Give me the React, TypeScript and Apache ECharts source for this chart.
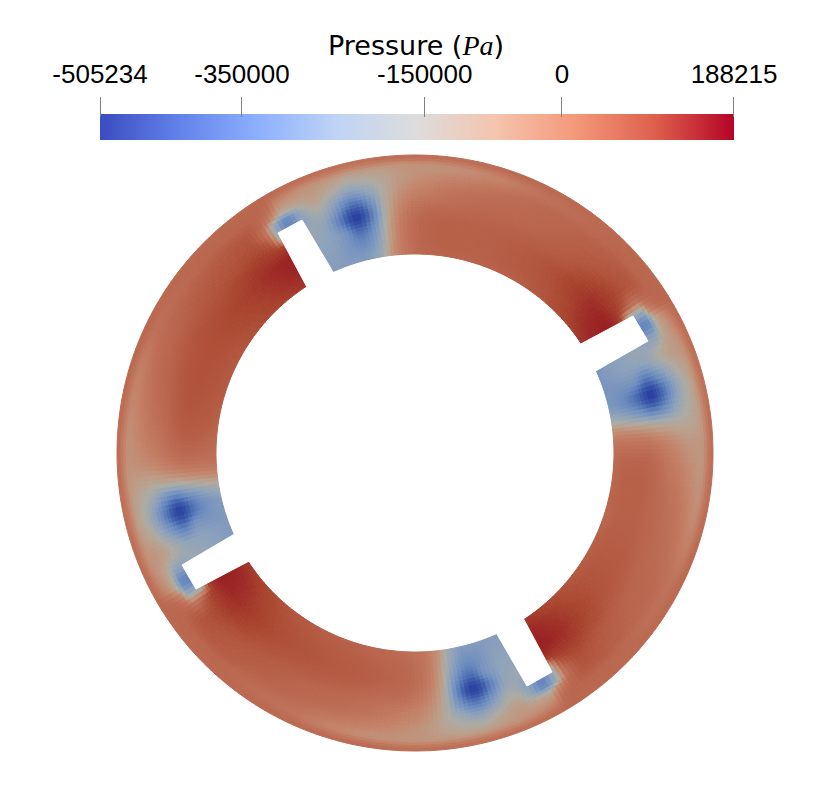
import React, { useEffect, useRef } from "react";
import * as echarts from "echarts";

const CX = 415, CY = 453;
const slotAngles = [61.2, 151.2, 241.2, 331.2];
const knotOffsets = [0, 3, 7, 11, 15, 19, 23, 27, 32, 38, 46, 56, 66, 74, 80, 84, 87];
const radii = [199, 214, 229, 243, 256, 266, 276, 287, 298];

// Pressure in kPa; one list per radius, four 17-column sectors (clockwise).
const pR199 = [
  -100,-260,-265,-270,-265,-200,-60,10,40,50,50,60,75,95,115,135,140,
  -100,-240,-240,-250,-255,-195,-60,5,30,45,55,65,80,100,120,135,140,
  -100,-250,-250,-255,-250,-185,-50,15,40,60,70,75,90,110,125,140,145,
  -100,-245,-245,-250,-250,-200,-65,10,45,55,55,60,75,100,120,140,150];
const pR214 = [
  -100,-235,-240,-270,-295,-225,-70,15,55,60,60,70,85,110,145,165,175,
  -100,-225,-230,-265,-290,-220,-70,10,45,55,65,75,90,115,150,170,175,
  -100,-230,-235,-265,-280,-210,-60,20,55,70,80,85,100,120,150,165,170,
  -100,-230,-235,-265,-295,-230,-75,15,55,60,60,70,85,110,150,170,175];
const pR229 = [
  -100,-215,-225,-270,-380,-270,-85,15,55,60,60,70,85,120,160,180,188,
  -100,-210,-220,-265,-370,-265,-80,10,50,60,70,80,95,125,160,178,185,
  -100,-210,-220,-265,-365,-255,-70,25,60,75,85,90,105,130,160,175,180,
  -100,-215,-225,-265,-375,-270,-85,15,55,60,60,70,90,125,165,182,188];
const pR243 = [
  -100,-190,-215,-340,-505,-315,-105,-5,35,45,50,60,75,105,135,140,140,
  -100,-185,-210,-335,-500,-310,-100,-10,35,45,60,70,85,110,135,135,135,
  -100,-185,-210,-335,-495,-300,-90,5,45,65,75,85,95,115,135,130,130,
  -100,-190,-215,-335,-505,-315,-105,-5,40,50,55,60,75,110,135,135,135];
const pR256 = [
  -320,-230,-185,-270,-370,-270,-115,-40,-5,20,35,45,60,80,100,70,-200,
  -320,-230,-180,-265,-360,-265,-110,-40,-5,20,40,55,70,85,100,75,-200,
  -320,-225,-175,-260,-355,-255,-100,-25,10,35,55,70,80,90,100,70,-200,
  -320,-230,-185,-265,-370,-270,-110,-35,0,25,40,50,65,85,105,75,-200];
const pR266 = [
  -310,-220,-135,-205,-260,-205,-125,-65,-30,0,20,40,55,70,85,30,-200,
  -310,-220,-130,-200,-255,-200,-120,-60,-30,0,30,50,65,75,85,30,-200,
  -310,-220,-125,-195,-250,-190,-110,-45,-10,15,40,55,70,80,85,30,-200,
  -310,-220,-135,-205,-260,-205,-120,-60,-25,5,30,45,60,75,85,30,-200];
const pR276 = [
  -130,-120,-100,-140,-175,-155,-120,-85,-60,-35,-5,30,50,65,75,50,-20,
  -130,-120,-95,-135,-170,-150,-115,-80,-55,-30,0,35,55,70,75,50,-20,
  -130,-120,-90,-130,-165,-140,-100,-60,-40,-15,15,45,60,70,75,50,-20,
  -130,-120,-100,-135,-175,-155,-115,-80,-55,-30,5,40,55,65,75,50,-20];
const pR287 = [
  -40,-60,-75,-90,-100,-100,-95,-85,-80,-70,-40,10,30,45,50,50,40,
  -40,-60,-75,-85,-100,-95,-90,-80,-75,-65,-35,15,35,50,50,50,40,
  -40,-60,-70,-85,-95,-90,-85,-70,-65,-50,-25,25,40,50,50,50,40,
  -40,-60,-75,-85,-100,-95,-90,-80,-75,-65,-35,15,35,50,50,50,40];
const pR298 = [
  35,30,25,25,20,20,25,25,30,30,35,40,40,45,45,45,45,
  35,30,25,25,20,20,25,25,30,35,35,40,45,45,45,45,45,
  35,30,25,25,20,20,25,30,30,35,40,45,45,45,45,45,45,
  35,30,25,25,20,20,25,25,30,30,35,40,40,45,45,45,45];
const pressureRows = [pR199, pR214, pR229, pR243, pR256, pR266, pR276, pR287, pR298];

const ringValues = [-505, -400, -300, -220, -150, -100, -40, 50, 110, 188];
const ringColors = ["#2a3f9f", "#4262ad", "#6c8cc0", "#8fa3bb", "#aeaca3", "#bd9d88", "#c4846a", "#ba664e", "#a9452f", "#981f22"];

const barMin = -505234, barMax = 188215;
const tickValues = [-505234, -350000, -150000, 0, 188215];
const barStops = ["#3b4cc0", "#6282ea", "#8db0fe", "#c0d4f5", "#dddcdc", "#f5c4ad", "#f4987a", "#de604d", "#b40426"];

const slotPolygons = [
  [[633, 316], [648, 341], [592, 373], [577, 346]],
  [[552, 672], [527, 686], [494, 629], [521, 614]],
  [[182, 565], [196, 589], [253, 559], [238, 532]],
  [[278, 233], [302, 220], [336, 277], [309, 291]],
];

const knotAngles = slotAngles.flatMap((s) => knotOffsets.map((o) => s + o));
const nCols = knotAngles.length;

function hermite(p: number[], x: number[], v: number) {
  const d0 = (p[1] - p[0]) / (x[1] - x[0]);
  const d1 = (p[2] - p[1]) / (x[2] - x[1]);
  const d2 = (p[3] - p[2]) / (x[3] - x[2]);
  const m1 = d0 * d1 <= 0 ? 0 : (2 * d0 * d1) / (d0 + d1);
  const m2 = d1 * d2 <= 0 ? 0 : (2 * d1 * d2) / (d1 + d2);
  const h = x[2] - x[1];
  const t = (v - x[1]) / h;
  const t2 = t * t, t3 = t2 * t;
  return (2 * t3 - 3 * t2 + 1) * p[1] + (t3 - 2 * t2 + t) * h * m1 + (-2 * t3 + 3 * t2) * p[2] + (t3 - t2) * h * m2;
}
function colAngle(i: number) {
  const w = ((i % nCols) + nCols) % nCols;
  return knotAngles[w] + (i - w) / nCols * 360;
}
function fieldAt(col: number, row: number, theta: number, r: number) {
  const xs = [colAngle(col - 1), colAngle(col), colAngle(col + 1), colAngle(col + 2)];
  const vals: number[] = [];
  const rs: number[] = [];
  for (let k = row - 1; k <= row + 2; k++) {
    const rr = Math.max(0, Math.min(radii.length - 1, k));
    rs.push(radii[rr] + (k - rr) * 12);
    const line = pressureRows[rr];
    const get = (c: number) => line[((c % nCols) + nCols) % nCols];
    vals.push(hermite([get(col - 1), get(col), get(col + 1), get(col + 2)], xs, theta));
  }
  return hermite(vals, rs, r);
}
function ringColor(v: number) {
  if (v <= ringValues[0]) return ringColors[0];
  for (let i = 1; i < ringValues.length; i++) {
    if (v <= ringValues[i]) {
      const t = (v - ringValues[i - 1]) / (ringValues[i] - ringValues[i - 1]);
      return echarts.color.lerp(t, [ringColors[i - 1], ringColors[i]]) as string;
    }
  }
  return ringColors[ringColors.length - 1];
}

const cellData: number[][] = [];
for (let c = 0; c < nCols; c++) for (let r = 0; r < radii.length - 1; r++) cellData.push([c, r]);

function renderCell(_: any, api: any) {
  const col = api.value(0), row = api.value(1);
  const a0 = colAngle(col), a1 = colAngle(col + 1);
  const r0 = radii[row], r1 = radii[row + 1];
  const nA = Math.ceil((a1 - a0) / 1.1), nR = Math.ceil((r1 - r0) / 3.5);
  const pt = (a: number, r: number) => {
    const q = (a * Math.PI) / 180;
    return api.coord([CX + r * Math.sin(q), CY - r * Math.cos(q)]);
  };
  const children: any[] = [];
  for (let i = 0; i < nA; i++) {
    const p0 = a0 + ((a1 - a0) * i) / nA, p1 = a0 + ((a1 - a0) * (i + 1)) / nA;
    for (let j = 0; j < nR; j++) {
      const q0 = r0 + ((r1 - r0) * j) / nR, q1 = r0 + ((r1 - r0) * (j + 1)) / nR;
      const fill = ringColor(fieldAt(col, row, (p0 + p1) / 2, (q0 + q1) / 2));
      children.push({
        type: "polygon",
        shape: { points: [pt(p0, q0), pt(p1, q0), pt(p1, q1), pt(p0, q1)] },
        style: { fill, stroke: fill, lineWidth: 1 },
        silent: true,
      });
    }
  }
  return { type: "group", children };
}

function renderSlot(_: any, api: any) {
  const pts = [0, 1, 2, 3].map((i) => api.coord([api.value(i * 2), api.value(i * 2 + 1)]));
  return {
    type: "polygon",
    shape: { points: pts },
    style: { fill: "#ffffff", stroke: "#ffffff", lineWidth: 1, lineJoin: "round" },
    silent: true,
  };
}

function renderBar(_: any, api: any) {
  const a = api.coord([api.value(0), 1]);
  const b = api.coord([api.value(1), 0]);
  return {
    type: "rect",
    shape: { x: a[0], y: a[1], width: b[0] - a[0], height: b[1] - a[1] },
    style: {
      fill: new echarts.graphic.LinearGradient(0, 0, 1, 0,
        barStops.map((color, i) => ({ offset: i / (barStops.length - 1), color }))),
    },
    silent: true,
  };
}

function renderTick(_: any, api: any) {
  const a = api.coord([api.value(0), 1]);
  const x = Math.min(Math.round(a[0]), 734) - 0.5 + (a[0] < 101 ? 1 : 0);
  return {
    type: "line",
    shape: { x1: x, y1: a[1] - 17, x2: x, y2: a[1] + 3 },
    style: { stroke: "#808080", lineWidth: 1 },
    silent: true,
  };
}

export default function App() {
  const ref = useRef<HTMLDivElement>(null);
  useEffect(() => {
    const chart = echarts.init(ref.current!, undefined, { renderer: "svg" });
    chart.setOption({
      animation: false,
      backgroundColor: "#ffffff",
      title: {
        left: 416,
        top: 30,
        padding: 0,
        textAlign: "center",
        text: "{a|Pressure (}{b|Pa}{a|)}",
        textStyle: {
          fontWeight: "normal",
          lineHeight: 30,
          rich: {
            a: { fontFamily: "DejaVu Sans", fontWeight: "normal", fontSize: 27, lineHeight: 30, color: "#000000" },
            b: { fontFamily: "Liberation Serif", fontStyle: "italic", fontWeight: "normal", fontSize: 28, lineHeight: 30, color: "#000000" },
          },
        },
      },
      grid: [
        { left: 0, top: 0, width: 830, height: 793 },
        { left: 100, top: 114, width: 634, height: 26 },
      ],
      xAxis: [
        { type: "value", gridIndex: 0, min: 0, max: 830, show: false },
        {
          type: "value",
          gridIndex: 1,
          min: barMin,
          max: barMax,
          position: "top",
          splitLine: { show: false },
          axisLine: { show: false },
          axisTick: { show: false },
          axisLabel: {
            customValues: tickValues,
            margin: 27,
            fontFamily: "Liberation Sans",
            fontSize: 26,
            lineHeight: 26,
            color: "#000000",
            hideOverlap: false,
            formatter: (v: number) => String(v),
          },
        },
      ],
      yAxis: [
        { type: "value", gridIndex: 0, min: 0, max: 793, inverse: true, show: false },
        { type: "value", gridIndex: 1, min: 0, max: 1, show: false },
      ],
      series: [
        { type: "custom", xAxisIndex: 0, yAxisIndex: 0, clip: false, data: cellData, renderItem: renderCell, z: 1, silent: true },
        { type: "custom", xAxisIndex: 0, yAxisIndex: 0, clip: false, data: slotPolygons.map((p) => p.flat()), renderItem: renderSlot, z: 2, silent: true },
        { type: "custom", xAxisIndex: 1, yAxisIndex: 1, clip: false, data: [[barMin, barMax]], renderItem: renderBar, z: 3, silent: true },
        { type: "custom", xAxisIndex: 1, yAxisIndex: 1, clip: false, data: tickValues.map((v) => [v]), renderItem: renderTick, z: 4, silent: true },
      ],
    });
    return () => chart.dispose();
  }, []);
  return <div ref={ref} style={{ position: "absolute", left: 0, top: 0, width: 830, height: 793 }} />;
}
